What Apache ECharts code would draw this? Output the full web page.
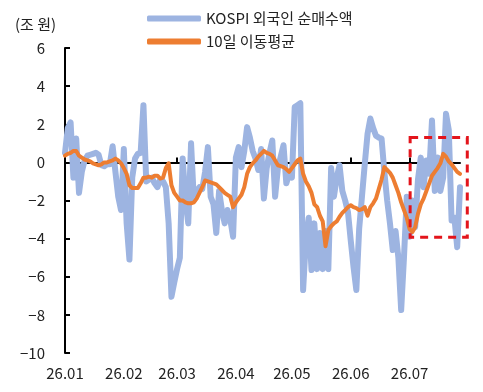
<!DOCTYPE html>
<html>
<head>
<meta charset="utf-8">
<script src="https://cdn.jsdelivr.net/npm/echarts@6/dist/echarts.min.js"></script>
<style>
  html, body { margin: 0; padding: 0; background: #fff; }
  #chart { width: 483px; height: 392px; }
</style>
</head>
<body>
<div id="chart"></div>
<script>
// 월 구분 (거래일 인덱스 기준)
var monthLabels = ['26.01', '26.02', '26.03', '26.04', '26.05', '26.06', '26.07'];
var monthIdx = [0, 21, 40, 61, 81, 102, 123];

// KOSPI 외국인 순매수액 (조 원, 일별)
var foreign = [
  0.5, 1.8, 2.1, -0.8, 1.25, -1.6, -0.5, 0.1, 0.35, 0.4,
  0.45, 0.5, 0.4, -0.15, -0.2, -0.1, -0.1, 0.85, -0.5, -1.8,
  -2.5, 0.7, -3.2, -5.1, -0.8, 0.2, 0.45, 0.5, 3.0, -1.0,
  -0.9, -0.8, -1.1, -1.3, -0.9, -1.0, -1.3, -3.2, -7.05, -6.3,
  -5.6, -5.0, 0.2, -2.0, -3.2, 1.0, -2.0, -1.5, -1.3, -1.4,
  -0.5, 0.8, -1.8, -2.2, -3.7, -1.5, -2.5, -3.2, -2.5, -3.0,
  -3.9, 0.25, 0.8, -0.25, 0.6, 1.85, 1.3, 0.6, 0.2, -0.4,
  0.7, -1.9, -0.3, 0.5, 1.15, -1.8, -0.3, 0.3, 0.9, -1.1,
  -0.6, -0.8, 2.9, 3.0, 3.1, -6.7, -4.0, -2.9, -5.65, -3.2,
  -5.6, -3.7, -5.6, -3.6, -5.6, -0.3, -1.8, -0.8, -0.15, -1.5,
  -2.0, -2.6, -4.1, -5.5, -6.7, -3.5, -1.8, -0.1, 1.5, 2.3,
  1.8, 1.4, 1.3, 1.25, -0.5, -2.0, -3.2, -4.6, -3.6, -5.0,
  -7.75, -5.0, -1.8, -3.9, -2.0, -3.4, -0.9, 0.25, -1.3, 0.1,
  -0.6, 2.2, -1.5, 0.25, -1.5, -0.8, 2.55, 1.7, -3.05, -2.9,
  -4.45, -1.3
];

// 10일 이동평균
var ma10 = [
  0.35, 0.45, 0.5, 0.6, 0.6, 0.35, 0.25, 0.15, 0.1, 0.05,
  -0.05, -0.1, -0.15, -0.1, 0.0, 0.0, 0.05, 0.1, 0.2, 0.1,
  -0.05, -0.3, -0.6, -1.2, -1.35, -1.35, -1.35, -1.1, -0.8, -0.8,
  -0.75, -0.8, -0.7, -0.7, -0.85, -0.8, -0.3, -0.05, -1.2, -1.6,
  -1.8, -2.0, -2.0, -2.1, -2.15, -2.15, -2.1, -1.9, -1.6, -1.3,
  -0.95, -1.0, -1.05, -1.1, -1.15, -1.3, -1.45, -1.6, -1.7, -1.8,
  -2.35, -2.1, -1.9, -1.7, -1.3, -0.6, -0.25, -0.05, 0.1, 0.3,
  0.45, 0.6, 0.5, 0.45, 0.35, 0.1, -0.15, -0.2, -0.25, -0.35,
  -0.5, -0.3, -0.1, 0.1, 0.2, -0.6, -1.0, -1.25, -1.6, -2.2,
  -2.35, -2.8, -3.1, -4.4, -3.55, -3.35, -3.2, -3.1, -2.85, -2.65,
  -2.5, -2.35, -2.25, -2.35, -2.4, -2.5, -2.45, -2.35, -2.8, -2.35,
  -2.15, -1.9, -1.4, -0.9, -0.25, -0.4, -0.55, -0.8, -1.2, -1.6,
  -2.1, -2.5, -2.9, -3.5, -3.65, -3.4, -2.7, -2.2, -1.9, -1.5,
  -1.1, -0.7, -0.5, -0.3, -0.05, 0.45, 0.3, 0.05, -0.1, -0.3,
  -0.5, -0.6
];

// 강조 박스 (데이터 좌표)
var boxFrom = [123.2, 1.3];
var boxTo = [143.6, -3.93];

var font = '"Noto Sans CJK KR", "Noto Sans", sans-serif';

var chart = echarts.init(document.getElementById('chart'));

var option = {
  animation: false,
  title: {
    text: '(조 원)',
    left: 10,
    top: 12,
    textStyle: { fontFamily: font, fontSize: 15, fontWeight: 'normal', color: '#222' }
  },
  legend: {
    orient: 'vertical',
    left: 142,
    top: 6,
    itemWidth: 54,
    itemHeight: 6,
    itemGap: 8,
    icon: 'roundRect',
    textStyle: { fontFamily: font, fontSize: 15, color: '#222' },
    data: ['KOSPI 외국인 순매수액', '10일 이동평균']
  },
  grid: { left: 65, right: 23, top: 48, bottom: 39, containLabel: false },
  xAxis: [{
    type: 'value',
    min: 0,
    max: foreign.length - 1,
    axisLine: { onZero: true, lineStyle: { color: '#000', width: 2 } },
    axisTick: { show: true, inside: true, length: 5, customValues: monthIdx.slice(1),
      lineStyle: { color: '#000', width: 2 } },
    axisLabel: { show: false },
    splitLine: { show: false }
  }, {
    type: 'value',
    position: 'bottom',
    min: 0,
    max: foreign.length - 1,
    axisLine: { show: false, onZero: false },
    axisTick: { show: false },
    axisLabel: {
      customValues: monthIdx,
      margin: 13,
      fontFamily: font,
      fontSize: 15,
      color: '#222',
      formatter: function (v) { return monthLabels[monthIdx.indexOf(v)]; }
    },
    splitLine: { show: false }
  }],
  yAxis: {
    type: 'value',
    min: -10,
    max: 6,
    interval: 2,
    axisLine: { show: true, lineStyle: { color: '#000', width: 2 } },
    axisTick: { show: true, inside: true, length: 5, lineStyle: { color: '#000', width: 2 } },
    axisLabel: {
      margin: 20,
      fontFamily: font,
      fontSize: 15,
      color: '#222',
      formatter: function (v) { return String(v).replace('-', '−'); }
    },
    splitLine: { show: false }
  },
  series: [{
    name: 'KOSPI 외국인 순매수액',
    type: 'line',
    xAxisIndex: 0,
    data: foreign.map(function (v, i) { return [i, v]; }),
    showSymbol: false,
    color: '#9db4e1',
    lineStyle: { width: 6, cap: 'round', join: 'round' }
  }, {
    name: '10일 이동평균',
    type: 'line',
    xAxisIndex: 0,
    data: ma10.map(function (v, i) { return [i, v]; }),
    showSymbol: false,
    color: '#ed7d31',
    lineStyle: { width: 4, cap: 'round', join: 'round' }
  }]
};

chart.setOption(option);

// 빨간 점선 박스
var p1 = chart.convertToPixel({ xAxisIndex: 0, yAxisIndex: 0 }, boxFrom);
var p2 = chart.convertToPixel({ xAxisIndex: 0, yAxisIndex: 0 }, boxTo);
chart.setOption({
  graphic: [{
    type: 'rect',
    z: 100,
    shape: { x: p1[0], y: p1[1], width: p2[0] - p1[0], height: p2[1] - p1[1] },
    style: { fill: 'none', stroke: '#e3141b', lineWidth: 3, lineDash: [8, 6] }
  }]
});
</script>
</body>
</html>
